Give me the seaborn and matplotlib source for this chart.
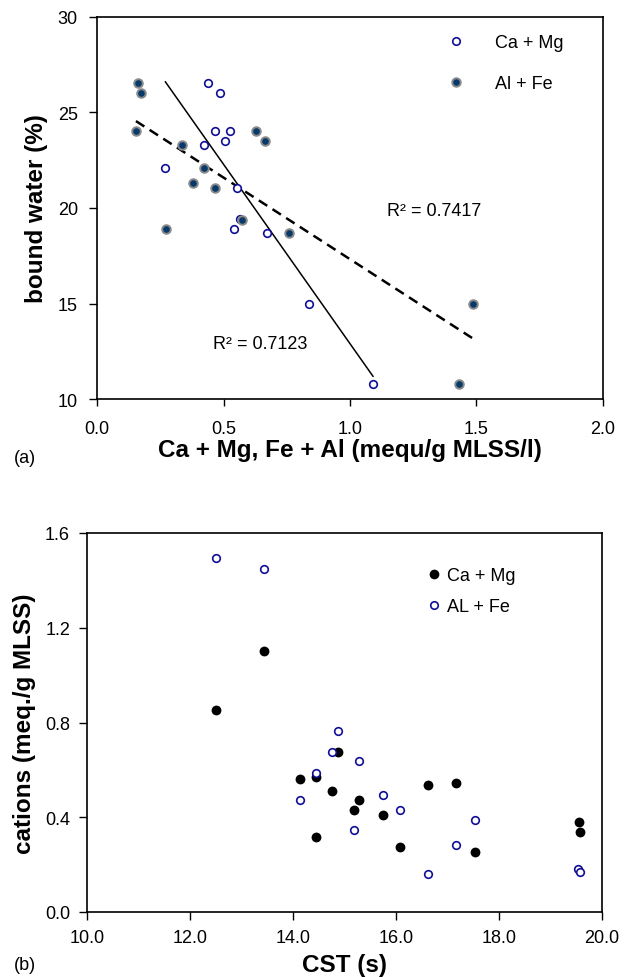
import matplotlib
matplotlib.use("Agg")
import matplotlib.pyplot as plt
from matplotlib.lines import Line2D
from matplotlib.ticker import FormatStrFormatter, MultipleLocator
import seaborn as sns
import pandas as pd

# ---------------- data (a) ----------------
ca_mg_x = [0.437, 0.486, 0.464, 0.527, 0.506, 0.424, 0.269, 0.553, 0.541, 0.565, 0.671, 0.839, 1.092]
ca_mg_bw = [26.55, 26.0, 24.0, 24.0, 23.5, 23.3, 22.1, 21.04, 18.9, 19.4, 18.7, 14.96, 10.8]
al_fe_x = [0.161, 0.173, 0.153, 0.630, 0.663, 0.336, 0.424, 0.377, 0.465, 0.573, 0.270, 0.759, 1.489, 1.431]
al_fe_bw = [26.53, 26.0, 24.0, 24.0, 23.5, 23.28, 22.1, 21.3, 21.06, 19.38, 18.9, 18.7, 14.96, 10.8]
r2_ca_mg = "R² = 0.7123"
r2_al_fe = "R² = 0.7417"

# ---------------- data (b) ----------------
cst_ca_mg = [12.52, 13.44, 14.87, 14.45, 14.15, 14.77, 15.29, 15.19, 15.76, 14.45, 16.08, 16.62, 17.18, 17.54, 19.55, 19.58]
cat_ca_mg = [0.852, 1.103, 0.675, 0.570, 0.560, 0.510, 0.474, 0.431, 0.410, 0.318, 0.273, 0.537, 0.545, 0.252, 0.380, 0.337]
cst_al_fe = [12.52, 13.44, 14.87, 14.77, 15.29, 14.45, 14.15, 15.76, 16.08, 15.19, 17.54, 17.18, 16.62, 19.54, 19.57]
cat_al_fe = [1.496, 1.446, 0.766, 0.675, 0.638, 0.587, 0.474, 0.494, 0.431, 0.346, 0.387, 0.282, 0.159, 0.182, 0.168]

df_a1 = pd.DataFrame({"x": ca_mg_x, "y": ca_mg_bw})
df_a2 = pd.DataFrame({"x": al_fe_x, "y": al_fe_bw})
df_b1 = pd.DataFrame({"x": cst_ca_mg, "y": cat_ca_mg})
df_b2 = pd.DataFrame({"x": cst_al_fe, "y": cat_al_fe})

sns.set_style("ticks")
plt.rcParams['font.family'] = ['Liberation Sans', 'DejaVu Sans']
plt.rcParams.update({"text.color": "black", "axes.labelcolor": "black",
                     "xtick.color": "black", "ytick.color": "black",
                     "axes.edgecolor": "black"})

BLUE = "#0f0f96"
NAVY = "#073a6a"
GREY = "#8a8a8a"
FS = 13
LFS = 17.5

W, H = 631, 978
fig = plt.figure(figsize=(W / 100, H / 100), dpi=100)
ax1 = fig.add_axes([97.3 / W, 1 - 400.4 / H, (602.5 - 97.3) / W, (400.4 - 17.6) / H])
ax2 = fig.add_axes([86.7 / W, 1 - 913 / H, (601.7 - 86.7) / W, (913 - 534) / H])

# ---------- panel (a) ----------
sns.regplot(data=df_a1, x="x", y="y", scatter=False, ci=None, ax=ax1,
            color="black", line_kws=dict(lw=1.1))
sns.regplot(data=df_a2, x="x", y="y", scatter=False, ci=None, ax=ax1,
            color="black", line_kws=dict(lw=1.8, linestyle=(0, (4, 2.5))))
sns.scatterplot(data=df_a1, x="x", y="y", ax=ax1, marker="o", s=30,
                facecolor="white", edgecolor=BLUE, linewidth=1.2, zorder=3)
sns.scatterplot(data=df_a2, x="x", y="y", ax=ax1, marker="o", s=38,
                facecolor=NAVY, edgecolor=GREY, linewidth=1.4, zorder=4)

ax1.set_xlim(0, 2)
ax1.set_ylim(10, 30)
ax1.xaxis.set_major_locator(MultipleLocator(0.5))
ax1.xaxis.set_major_formatter(FormatStrFormatter('%.1f'))
ax1.yaxis.set_major_locator(MultipleLocator(5))
ax1.tick_params(axis='x', direction='out', length=5, width=1, labelsize=FS, pad=10)
ax1.tick_params(axis='y', direction='out', length=6, width=1, labelsize=FS, pad=8)
ax1.set_xlabel("Ca + Mg, Fe + Al (mequ/g MLSS/l)", fontsize=LFS, fontweight='bold')
ax1.set_ylabel("bound water (%)", fontsize=LFS, fontweight='bold')
ax1.xaxis.set_label_coords(0.5, -0.1)
ax1.yaxis.set_label_coords(-0.098, 0.5)
ax1.text(1.145, 19.86, r2_al_fe, fontsize=FS, ha='left', va='center')
ax1.text(0.459, 12.9, r2_ca_mg, fontsize=FS, ha='left', va='center')

h1 = [Line2D([], [], ls='none', marker='o', ms=5.4, mfc='white', mec=BLUE, mew=1.2),
      Line2D([], [], ls='none', marker='o', ms=6.1, mfc=NAVY, mec=GREY, mew=1.4)]
ax1.legend(h1, ["Ca + Mg", "Al + Fe"], loc='upper left', bbox_to_anchor=(0.675, 0.955),
           frameon=False, fontsize=FS, handlelength=2.0, handletextpad=1.15,
           labelspacing=1.35, borderpad=0, borderaxespad=0)

# ---------- panel (b) ----------
sns.scatterplot(data=df_b1, x="x", y="y", ax=ax2, marker="o", s=50,
                color="black", edgecolor="black", linewidth=0, zorder=3)
sns.scatterplot(data=df_b2, x="x", y="y", ax=ax2, marker="o", s=30,
                facecolor="white", edgecolor=BLUE, linewidth=1.2, zorder=4)
ax2.set_xlim(10, 20)
ax2.set_ylim(0, 1.6)
ax2.xaxis.set_major_locator(MultipleLocator(2))
ax2.xaxis.set_major_formatter(FormatStrFormatter('%.1f'))
ax2.yaxis.set_major_locator(MultipleLocator(0.4))
ax2.yaxis.set_major_formatter(FormatStrFormatter('%.1f'))
ax2.tick_params(axis='both', direction='out', length=6, width=1, labelsize=FS, pad=6)
ax2.set_xlabel("CST (s)", fontsize=LFS, fontweight='bold')
ax2.set_ylabel("cations (meq./g MLSS)", fontsize=LFS, fontweight='bold')
ax2.xaxis.set_label_coords(0.5, -0.108)
ax2.yaxis.set_label_coords(-0.098, 0.5)

h2 = [Line2D([], [], ls='none', marker='o', ms=7, mfc='black', mec='black', mew=0),
      Line2D([], [], ls='none', marker='o', ms=5.4, mfc='white', mec=BLUE, mew=1.2)]
ax2.legend(h2, ["Ca + Mg", "AL + Fe"], loc='upper left', bbox_to_anchor=(0.66, 0.909),
           frameon=False, fontsize=FS, handlelength=0.8, handletextpad=0.35,
           labelspacing=0.75, borderpad=0, borderaxespad=0)

for ax in (ax1, ax2):
    for sp in ax.spines.values():
        sp.set_visible(True)
        sp.set_linewidth(1.2)
        sp.set_color("black")

fig.text(14 / W, 1 - 459 / H, "(a)", fontsize=FS, ha='left', va='center')
fig.text(14 / W, 1 - 966 / H, "(b)", fontsize=FS, ha='left', va='center')

fig.savefig("out.png", dpi=100)
